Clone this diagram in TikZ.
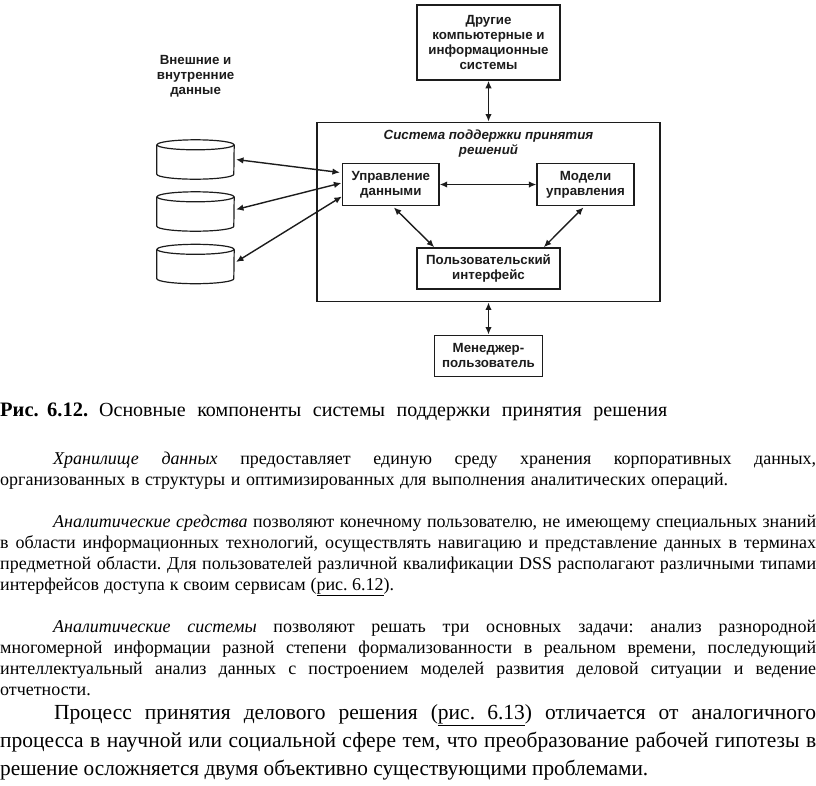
\documentclass[tikz,border=0pt]{standalone}
\usepackage{fontspec}
\usepackage{graphicx}
\setmainfont{Liberation Serif}
\newfontfamily\diagfont{Liberation Sans}
\usetikzlibrary{arrows.meta,calc}
\definecolor{ink}{HTML}{1C1C1C}
\frenchspacing
\tikzset{
  box/.style={draw=ink,fill=white,line width=#1,inner sep=0pt,align=center,text=ink,font=\diagfont\bfseries\fontsize{13.3}{15}\selectfont},
  box/.default=1.3pt,
  lab/.style={inner sep=0pt,align=center,text=ink,font=\diagfont\bfseries\fontsize{13.3}{15}\selectfont},
  store/.style={inner sep=0pt,minimum width=77pt,minimum height=29pt},
  storeline/.style={draw=ink,line width=1.2pt},
  link/.style={draw=ink,line width=1.4pt,{Latex[length=7.5pt,width=6.5pt]}-{Latex[length=7.5pt,width=6.5pt]}},
  tl/.style={anchor=base west,inner sep=0pt,text=black,font=\fontsize{#1}{20}\selectfont},
  tl/.default=18
}
\newcommand{\tline}[6][18]{\node[tl=#1] (#2) at (#3,#4) {\sbox0{#6}\ifdim\wd0>#5pt\resizebox{#5pt}{\height}{\usebox0}\else\makebox[#5pt][s]{\unhbox0}\fi};}
\newcommand{\drumlines}[1]{\draw[storeline] (#1.north) ellipse [x radius=38.5,y radius=5];
  \draw[storeline] (#1.north west) -- (#1.south west) arc[start angle=180,end angle=0,x radius=38.5,y radius=5] -- (#1.north east);}
\begin{document}
\begin{tikzpicture}[x=1pt,y=-1pt]
\useasboundingbox (0,0) rectangle (816,785);
% diagram
\node[box=1.6pt,minimum width=143pt,minimum height=75pt] (other) at (488.5,42.5) {Другие\\компьютерные и\\информационные\\системы};
\node[draw=ink,line width=1.4pt,minimum width=343pt,minimum height=179.5pt,inner sep=0pt] (sys) at (488.5,212) {};
\node[lab,font=\diagfont\bfseries\itshape\fontsize{13.3}{15}\selectfont] (systitle) at (488.5,143.5) {Система поддержки принятия\\решений};
\node[box,minimum width=96.5pt,minimum height=41.5pt] (dm) at (390.8,184.5) {Управление\\данными};
\node[box,minimum width=97pt,minimum height=41.5pt] (mod) at (585.5,184.5) {Модели\\управления};
\node[box=1.6pt,minimum width=143pt,minimum height=41pt] (ui) at (488.5,268.5) {Пользовательский\\интерфейс};
\node[box=1pt,minimum width=107.5pt,minimum height=41pt] (mgr) at (488.5,355.5) {Менеджер-\\пользователь};
\node[lab] (ext) at (195.6,76) {Внешние и\\внутренние\\данные};
\node[store] (c1) at (195.5,159.5) {};
\node[store] (c2) at (195.5,211.5) {};
\node[store] (c3) at (195.5,264) {};
\drumlines{c1}
\drumlines{c2}
\drumlines{c3}
\draw[link] ($(c1)+(40.5,0)$) -- ($(dm.west)+(-2,-12)$);
\draw[link] ($(c2)+(40.5,-2)$) -- ($(dm.west)+(-0.5,-1.5)$);
\draw[link] ($(c3)+(40.5,-2)$) -- ($(dm.west)+(0,12)$);
\draw[link] (dm.east) -- (mod.west);
\draw[link] ($(dm.south)+(3,1.5)$) -- ($(ui.north west)+(18,0)$);
\draw[link] ($(mod.south)+(-2,1.5)$) -- ($(ui.north east)+(-17,0)$);
\draw[link] (other.south) -- (sys.north);
\draw[link] (sys.south) -- (mgr.north);
% text
\tline[20.5]{cap1}{0}{416.5}{88}{\textbf{Рис. 6.12.}}
\tline[20]{cap2}{99}{416.5}{568}{Основные компоненты системы поддержки принятия решения}
\tline{a1}{53}{464.5}{763}{\textit{Хранилище данных} предоставляет единую среду хранения корпоративных данных,}
\tline{a2}{0}{485}{728}{организованных в структуры и оптимизированных для выполнения аналитических операций.}
\tline{b1}{53}{527.5}{763}{\textit{Аналитические средства} позволяют конечному пользователю, не имеющему специальных знаний}
\tline{b2}{0}{548}{816}{в области информационных технологий, осуществлять навигацию и представление данных в терминах}
\tline{b3}{0}{569}{816}{предметной области. Для пользователей различной квалификации DSS располагают различными типами}
\tline{b4}{0}{590}{394}{интерфейсов доступа к своим сервисам (\underline{рис. 6.12}).}
\tline{c1l}{53}{632}{763}{\textit{Аналитические системы} позволяют решать три основных задачи: анализ разнородной}
\tline{c2l}{0}{653}{816}{многомерной информации разной степени формализованности в реальном времени, последующий}
\tline{c3l}{0}{674}{816}{интеллектуальный анализ данных с построением моделей развития деловой ситуации и ведение}
\tline{c4l}{0}{695}{91}{отчетности.}
\tline[21.5]{d1}{54}{719}{762}{Процесс принятия делового решения (\underline{\makebox[87pt][s]{рис. 6.13}}) отличается от аналогичного}
\tline[21.5]{d2}{0}{747}{816}{процесса в научной или социальной сфере тем, что преобразование рабочей гипотезы в}
\tline[21.5]{d3}{0}{775}{648}{решение осложняется двумя объективно существующими проблемами.}
\end{tikzpicture}
\end{document}
